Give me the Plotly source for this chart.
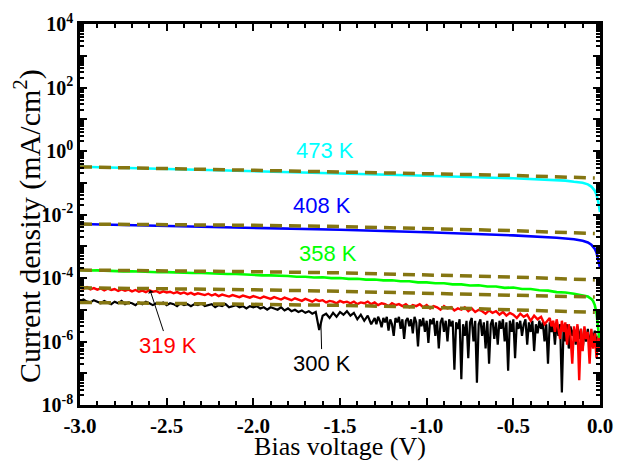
import numpy as np
import plotly.graph_objects as go

# ---- measured J-V sweeps (current density in mA/cm^2) ----
# 300 K: 20 mV steps down to -1.32 V, then 10 mV steps to 0 V
v_300 = np.concatenate([np.round(np.arange(-3.0, -1.3101, 0.02), 2),
                        np.round(np.arange(-1.30, 0.0001, 0.01), 2)])
j_300 = [
    1.9e-5, 2.1e-5, 1.8e-5, 1.7e-5, 2.0e-5, 1.8e-5, 1.6e-5, 1.9e-5, 1.7e-5, 1.5e-5,
    1.8e-5, 1.6e-5, 1.9e-5, 1.5e-5, 1.7e-5, 1.6e-5, 1.4e-5, 1.7e-5, 1.5e-5, 1.8e-5,
    1.6e-5, 1.4e-5, 1.6e-5, 1.5e-5, 1.7e-5, 1.4e-5, 1.6e-5, 1.5e-5, 1.3e-5, 1.6e-5,
    1.4e-5, 1.5e-5, 1.3e-5, 1.5e-5, 1.4e-5, 1.6e-5, 1.3e-5, 1.4e-5, 1.5e-5, 1.2e-5,
    1.4e-5, 1.3e-5, 1.5e-5, 1.2e-5, 1.3e-5, 1.4e-5, 1.2e-5, 1.3e-5, 1.1e-5, 1.3e-5,
    1.2e-5, 1.3e-5, 1.1e-5, 1.2e-5, 1.0e-5, 1.2e-5, 1.1e-5, 1.0e-5, 1.2e-5, 9.5e-6,
    1.1e-5, 9.0e-6, 1.0e-5, 8.5e-6, 9.5e-6, 8.0e-6, 9.0e-6, 7.5e-6, 8.5e-6, 2.3e-6,
    6.5e-6, 7.5e-6, 5.5e-6, 8.0e-6, 6.0e-6, 8.5e-6, 7.0e-6, 9.0e-6, 6.5e-6, 8.0e-6,
    5.0e-6, 7.0e-6, 4.5e-6, 6.5e-6, 3.5e-6,
    5.5e-6, 3.5e-6, 6.0e-6, 4.5e-6, 2.8e-6, 5.5e-6, 4.0e-6, 6.0e-6, 2.2e-6, 5.0e-6,
    3.5e-6, 1.5e-6, 5.5e-6, 4.0e-6, 6.0e-6, 2.5e-6, 5.0e-6, 1.2e-6, 4.5e-6, 5.5e-6,
    3.0e-6, 5.0e-6, 1.8e-6, 6.0e-6, 4.0e-6, 7.0e-7, 5.0e-6, 3.0e-6, 5.5e-6, 2.0e-6,
    4.5e-6, 9.0e-7, 5.0e-6, 3.5e-6, 5.5e-6, 1.5e-6, 4.5e-6, 6.0e-7, 4.0e-6, 5.5e-6,
    2.0e-6, 4.5e-6, 1.0e-6, 5.0e-6, 3.0e-6, 4.5e-6, 1.3e-7, 4.0e-6, 2.5e-6, 5.0e-6,
    6.5e-8, 3.5e-6, 1.5e-6, 4.5e-6, 3.0e-7, 4.0e-6, 5.5e-6, 1.0e-6, 4.5e-6, 5.0e-8,
    3.5e-6, 5.0e-6, 1.5e-6, 4.0e-6, 6.0e-7, 4.5e-6, 2.0e-7, 3.5e-6, 5.0e-6, 1.2e-6,
    4.0e-6, 8.0e-7, 4.5e-6, 2.5e-6, 5.0e-6, 1.0e-6, 4.0e-6, 1.2e-7, 4.5e-6, 2.0e-6,
    5.0e-6, 3.0e-7, 4.0e-6, 2.5e-6, 4.5e-6, 1.5e-6, 3.5e-6, 5.0e-6, 8.0e-7, 4.0e-6,
    2.0e-6, 4.5e-6, 5.0e-7, 3.5e-6, 1.8e-6, 4.5e-6, 2.5e-6, 4.0e-6, 1.0e-6, 3.5e-6,
    2.0e-7, 4.0e-6, 2.0e-6, 3.5e-6, 8.0e-7, 4.0e-6, 1.5e-6, 3.5e-6, 2.5e-8, 3.0e-6,
    1.0e-6, 3.5e-6, 6.0e-7, 3.0e-6, 1.5e-6, 2.5e-6, 8.0e-7, 3.0e-6, 1.2e-6, 2.5e-6,
    6.0e-7, 2.0e-6, 1.0e-6, 2.5e-6, 7.0e-7, 2.0e-6, 1.2e-6, 2.2e-6, 9.0e-7, 1.5e-6,
    6.0e-7,
]

# 319 K: 20 mV steps down to -0.30 V, then 10 mV steps to 0 V
v_319 = np.concatenate([np.round(np.arange(-3.0, -0.3001, 0.02), 2),
                        np.round(np.arange(-0.29, 0.0001, 0.01), 2)])
j_319 = [
    5.0e-5, 4.6e-5, 5.2e-5, 4.4e-5, 4.8e-5, 4.3e-5, 4.7e-5, 4.1e-5, 4.6e-5, 4.2e-5,
    4.5e-5, 3.9e-5, 4.4e-5, 4.0e-5, 4.3e-5, 3.8e-5, 4.2e-5, 3.7e-5, 4.0e-5, 3.6e-5,
    4.1e-5, 3.7e-5, 3.9e-5, 3.4e-5, 3.8e-5, 3.5e-5, 3.7e-5, 3.3e-5, 3.6e-5, 3.2e-5,
    3.5e-5, 3.1e-5, 3.4e-5, 3.0e-5, 3.3e-5, 3.1e-5, 2.9e-5, 3.2e-5, 2.8e-5, 3.1e-5,
    2.7e-5, 3.0e-5, 2.8e-5, 2.6e-5, 2.9e-5, 2.7e-5, 2.5e-5, 2.8e-5, 2.6e-5, 2.4e-5,
    2.7e-5, 2.5e-5, 2.3e-5, 2.6e-5, 2.4e-5, 2.2e-5, 2.5e-5, 2.3e-5, 2.1e-5, 2.4e-5,
    2.2e-5, 2.0e-5, 2.3e-5, 2.1e-5, 1.9e-5, 2.2e-5, 2.0e-5, 1.8e-5, 2.1e-5, 1.9e-5,
    2.0e-5, 1.7e-5, 1.9e-5, 1.8e-5, 1.6e-5, 1.9e-5, 1.7e-5, 1.8e-5, 1.6e-5, 1.8e-5,
    1.5e-5, 1.7e-5, 1.6e-5, 1.8e-5, 1.5e-5, 1.7e-5, 1.4e-5, 1.6e-5, 1.5e-5, 1.3e-5,
    1.6e-5, 1.4e-5, 1.5e-5, 1.3e-5, 1.5e-5, 1.2e-5, 1.4e-5, 1.3e-5, 1.5e-5, 1.2e-5,
    1.4e-5, 1.1e-5, 1.3e-5, 1.2e-5, 1.0e-5, 1.3e-5, 1.1e-5, 1.2e-5, 9.5e-6, 1.1e-5,
    1.0e-5, 1.2e-5, 9.0e-6, 1.1e-5, 8.5e-6, 1.0e-5, 9.0e-6, 7.5e-6, 9.5e-6, 8.0e-6,
    9.0e-6, 7.0e-6, 8.5e-6, 6.5e-6, 8.0e-6, 7.0e-6, 5.5e-6, 7.5e-6, 6.0e-6, 7.0e-6,
    4.5e-6, 6.5e-6, 5.0e-6, 6.0e-6, 3.5e-6, 5.5e-6,
    3.0e-6, 4.5e-6, 2.0e-6, 5.0e-6, 2.5e-6, 1.2e-6, 4.5e-6, 2.0e-6, 4.0e-6, 8.0e-7,
    3.5e-6, 1.5e-6, 2.0e-7, 3.0e-6, 1.0e-6, 3.5e-6, 6.0e-8, 2.5e-6, 5.0e-7, 3.0e-6,
    1.2e-6, 2.0e-6, 2.0e-7, 2.5e-6, 6.0e-7, 1.8e-6, 3.0e-7, 1.5e-6, 5.0e-7, 2.0e-7,
]

v_358 = [-3.00, -2.95, -2.90, -2.85, -2.80, -2.75, -2.70, -2.65, -2.60, -2.55,
         -2.50, -2.45, -2.40, -2.35, -2.30, -2.25, -2.20, -2.15, -2.10, -2.05,
         -2.00, -1.95, -1.90, -1.85, -1.80, -1.75, -1.70, -1.65, -1.60, -1.55,
         -1.50, -1.45, -1.40, -1.35, -1.30, -1.25, -1.20, -1.15, -1.10, -1.05,
         -1.00, -0.95, -0.90, -0.85, -0.80, -0.75, -0.70, -0.65, -0.60, -0.55,
         -0.50, -0.45, -0.40, -0.35, -0.30, -0.25, -0.20, -0.15, -0.10, -0.07,
         -0.05, -0.04, -0.03, -0.02, -0.015, -0.01, -0.005]
j_358 = [1.80e-4, 1.72e-4, 1.74e-4, 1.67e-4, 1.69e-4, 1.62e-4, 1.63e-4, 1.57e-4, 1.58e-4, 1.52e-4,
         1.53e-4, 1.47e-4, 1.48e-4, 1.43e-4, 1.44e-4, 1.38e-4, 1.39e-4, 1.33e-4, 1.33e-4, 1.27e-4,
         1.27e-4, 1.21e-4, 1.21e-4, 1.15e-4, 1.15e-4, 1.10e-4, 1.10e-4, 1.04e-4, 1.05e-4, 9.9e-5,
         1.00e-4, 9.4e-5, 9.5e-5, 8.9e-5, 9.0e-5, 8.4e-5, 8.5e-5, 7.9e-5, 7.9e-5, 7.3e-5,
         7.3e-5, 6.8e-5, 6.8e-5, 6.3e-5, 6.3e-5, 5.8e-5, 5.9e-5, 5.4e-5, 5.4e-5, 4.9e-5,
         5.0e-5, 4.5e-5, 4.5e-5, 4.1e-5, 4.0e-5, 3.6e-5, 3.5e-5, 3.2e-5, 2.9e-5, 2.6e-5,
         2.2e-5, 1.9e-5, 1.4e-5, 7.9e-6, 4.5e-6, 2.2e-6, 1.3e-6]

v_408 = [-3.0, -2.5, -2.0, -1.5, -1.0, -0.5, -0.25, -0.15, -0.10, -0.07,
         -0.05, -0.03, -0.02, -0.01, -0.005, 0.0]
j_408 = [5.0e-3, 4.4e-3, 3.8e-3, 3.3e-3, 2.75e-3, 2.2e-3, 1.86e-3, 1.66e-3, 1.48e-3, 1.32e-3,
         1.12e-3, 8.3e-4, 6.3e-4, 4.0e-4, 2.8e-4, 2.1e-4]

v_473 = [-3.0, -2.5, -2.0, -1.5, -1.0, -0.5, -0.2, -0.15, -0.10, -0.07,
         -0.05, -0.03, -0.02, -0.01, -0.005, 0.0]
j_473 = [0.32, 0.275, 0.234, 0.195, 0.166, 0.138, 0.117, 0.107, 0.100, 0.089,
         0.076, 0.056, 0.042, 0.025, 0.016, 0.012]

# ---- model fits (dashed) ----
v_fit = [-3.0, -2.5, -2.0, -1.5, -1.0, -0.5, -0.03]
fit_473 = [0.316, 0.282, 0.251, 0.224, 0.195, 0.170, 0.141]
fit_408 = [5.0e-3, 4.9e-3, 4.57e-3, 4.17e-3, 3.63e-3, 3.09e-3, 2.51e-3]
fit_358 = [1.78e-4, 1.70e-4, 1.58e-4, 1.45e-4, 1.26e-4, 1.07e-4, 8.7e-5]
fit_319 = [4.9e-5, 4.68e-5, 4.27e-5, 3.8e-5, 3.31e-5, 2.88e-5, 2.51e-5]
fit_300 = [1.7e-5, 1.62e-5, 1.51e-5, 1.38e-5, 1.2e-5, 1.02e-5, 8.3e-6]

x_ticks = [-3.0, -2.5, -2.0, -1.5, -1.0, -0.5, 0.0]
x_labels = ["-3.0", "-2.5", "-2.0", "-1.5", "-1.0", "-0.5", "0.0"]
y_exponents = list(range(-8, 5))

FIT_COLOR = "#857612"
LABEL_FONT = "Liberation Sans, Arial, sans-serif"
SERIF = "Liberation Serif, Times New Roman, serif"

fig = go.Figure()

measured = [
    (v_300, j_300, "black", 2.2),
    (v_319, j_319, "#ff0000", 2.4),
    (v_358, j_358, "#00ff00", 2.6),
    (v_408, j_408, "#0000ff", 2.6),
    (v_473, j_473, "#00ffff", 2.6),
]
for v, j, c, w in measured:
    fig.add_trace(go.Scatter(x=v, y=j, mode="lines",
                             line=dict(color=c, width=w), showlegend=False))

for fit in [fit_473, fit_408, fit_358, fit_319, fit_300]:
    fig.add_trace(go.Scatter(x=v_fit, y=fit, mode="lines",
                             line=dict(color=FIT_COLOR, width=3.5, dash="12px,7px"),
                             showlegend=False))

labels = [
    ("473 K", -1.587, 0.03, "#00ffff"),
    ("408 K", -1.604, -1.73, "#0000ff"),
    ("358 K", -1.569, -3.24, "#00ff00"),
]
annotations = []
for text, x, y, c in labels:
    annotations.append(dict(x=x, y=y, xref="x", yref="y", text=text, showarrow=False,
                            font=dict(family=LABEL_FONT, size=22, color=c)))

# pointer labels for the two lowest temperatures
annotations.append(dict(x=-2.596, y=-4.38, xref="x", yref="y", text="319 K",
                        showarrow=True, ax=18, ay=55, arrowhead=1, arrowsize=1,
                        arrowwidth=1, arrowcolor="black",
                        font=dict(family=LABEL_FONT, size=22, color="#ff0000")))
annotations.append(dict(x=-1.61, y=-5.42, xref="x", yref="y", text="300 K",
                        showarrow=True, ax=1, ay=40, arrowhead=0,
                        arrowwidth=1, arrowcolor="black",
                        font=dict(family=LABEL_FONT, size=22, color="black")))

# vertical axis title
annotations.append(dict(x=-0.1, y=0.47, xref="paper", yref="paper",
                        text="Current density (mA/cm<sup>2</sup>)", textangle=-90,
                        showarrow=False, xanchor="center", yanchor="middle",
                        font=dict(family=SERIF, size=30, color="black")))

fig.update_layout(
    width=618, height=461,
    margin=dict(l=80, r=18, t=24, b=56, autoexpand=False),
    paper_bgcolor="white", plot_bgcolor="white",
    annotations=annotations,
    showlegend=False,
)

fig.update_xaxes(
    range=[-3.0, 0.0], tickvals=x_ticks, ticktext=x_labels,
    ticks="inside", ticklen=7, tickwidth=2, tickcolor="black",
    automargin=False,
    minor=dict(dtick=0.1, tick0=-3.0, ticks="inside", ticklen=4, tickwidth=1.5,
               tickcolor="black", showgrid=False),
    showline=True, linewidth=2.5, linecolor="black", mirror="ticks",
    showgrid=False, zeroline=False,
    tickfont=dict(family=SERIF, size=21, color="black", weight="bold"),
    title=dict(text="Bias voltage (V)", standoff=0,
               font=dict(family=SERIF, size=26, color="black")),
)

fig.update_yaxes(
    type="log", range=[-8, 4],
    tickvals=[10.0 ** e for e in y_exponents],
    ticktext=[f"10<sup>{e}</sup>" if e % 2 == 0 else "" for e in y_exponents],
    ticks="inside", ticklen=7, tickwidth=2, tickcolor="black",
    automargin=False,
    minor=dict(dtick="D1", ticks="inside", ticklen=4, tickwidth=1.5,
               tickcolor="black", showgrid=False),
    showline=True, linewidth=2.5, linecolor="black", mirror="ticks",
    showgrid=False, zeroline=False,
    tickfont=dict(family=SERIF, size=20, color="black", weight="bold"),
)

fig.write_html("out.html")
